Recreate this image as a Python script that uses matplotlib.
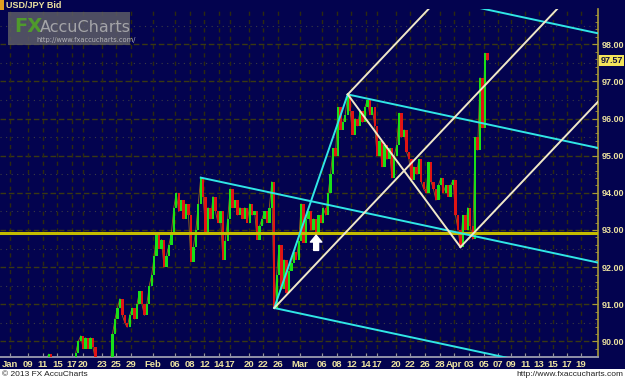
import matplotlib
matplotlib.use('Agg')
import matplotlib.pyplot as plt
import numpy as np
import pandas as pd
from matplotlib.patches import Rectangle
from matplotlib.ticker import MultipleLocator
from matplotlib.transforms import blended_transform_factory

# ---------------- data ----------------
symbol = 'USD/JPY Bid'
bars_per_day = 3
first_day = '2013-01-11'
last_day = '2013-04-05'

jan_closes = [89.40, 89.55, 89.66,  89.30, 89.10, 89.20,  88.80, 88.50, 88.70,
              88.30, 88.50, 88.40,  88.90, 89.70, 90.00,  90.15, 89.80, 90.10,
              89.80, 90.10, 89.85,  89.50, 89.00, 88.60,  88.30, 88.70, 88.80,
              89.30, 90.20, 90.60,  90.90, 91.15, 90.70,  90.50, 90.38, 90.70,
              90.90, 90.60, 91.00,  91.35, 91.00, 90.70,  91.00, 91.50, 91.80]
feb_closes = [92.30, 92.93, 92.50,  92.74, 92.00, 92.30,  92.60, 92.90, 93.60,
              94.00, 93.50, 93.80,  93.30, 93.70, 93.40,  92.15, 92.55, 93.00,
              93.70, 94.41, 93.90,  92.93, 93.60, 93.30,  93.90, 93.50, 93.20,
              93.50, 92.20, 92.70,  93.30, 94.10, 93.60,  93.80, 93.40, 93.60,
              93.30, 93.60, 93.20,  93.70, 93.40, 93.50,  92.74, 93.10, 93.30,
              93.50, 93.20, 93.60,  94.30, 90.90, 91.80,  92.60, 91.40, 92.20,
              91.30, 91.90, 92.10,  92.40, 92.20, 92.70]
mar_closes = [93.70, 92.66, 93.30,  93.50, 93.00, 93.30,  92.95, 93.40, 93.20,
              93.60, 93.40, 94.00,  94.50, 95.20, 95.00,  96.30, 95.70, 95.90,
              96.10, 96.65, 96.20,  95.57, 96.00, 95.80,  96.20, 95.90, 96.30,
              96.50, 96.10, 96.30,  95.80, 95.00, 95.40,  94.70, 95.30, 94.90,
              95.20, 94.40, 95.00,  95.30, 96.15, 95.50,  95.70, 95.10, 94.90,
              94.35, 94.70, 94.50,  94.90, 94.30, 94.10,  94.00, 94.83, 94.30,
              94.10, 93.80, 94.20,  94.40, 94.00, 94.20,  93.90, 94.20, 94.35]
apr_closes = [93.40, 93.00, 92.54,  93.40, 93.00, 93.60,  93.10, 92.75, 95.50,
              95.15, 97.10, 95.75,  97.76, 97.57]

support_level = 92.92
arrow_date = '2013-03-05'

cyan_pivot_dates = ['2013-02-11', '2013-02-25', '2013-03-11']
cyan_pivot_bars = [1, 1, 1]
cyan_pivot_prices = [94.41, 90.90, 96.65]
cream_pivot_dates = ['2013-02-25', '2013-03-11', '2013-04-01']
cream_pivot_bars = [1, 1, 2]
cream_pivot_prices = [90.90, 96.65, 92.54]

tick_dates = ['2013-01-06', '2013-01-09', '2013-01-11', '2013-01-15', '2013-01-17',
              '2013-01-20', '2013-01-23', '2013-01-25', '2013-01-29', '2013-02-01',
              '2013-02-06', '2013-02-08', '2013-02-12', '2013-02-14', '2013-02-17',
              '2013-02-20', '2013-02-22', '2013-02-26', '2013-03-01', '2013-03-06',
              '2013-03-08', '2013-03-12', '2013-03-14', '2013-03-17', '2013-03-20',
              '2013-03-22', '2013-03-26', '2013-03-28', '2013-04-01', '2013-04-03',
              '2013-04-05', '2013-04-07', '2013-04-09', '2013-04-11', '2013-04-13',
              '2013-04-15', '2013-04-17', '2013-04-19']
tick_labels = ['Jan', '09', '11', '15', '17', '20', '23', '25', '29', 'Feb',
               '06', '08', '12', '14', '17', '20', '22', '26', 'Mar', '06',
               '08', '12', '14', '17', '20', '22', '26', '28', 'Apr', '03',
               '05', '07', '09', '11', '13', '15', '17', '19']
price_ticks = [90, 91, 92, 93, 94, 95, 96, 97, 98]

# ---------------- style ----------------
W, H = 625, 380
NAVY = '#03034f'
GREEN = '#18e018'
RED = '#e01414'
CYAN = '#30e6e6'
CREAM = '#f0e8c8'
YELLOW = '#c4bc00'
OLIVE = '#a89a38'
LABEL = '#ece2a0'
FUTURE_STEP = 0.943

axis_days = pd.bdate_range('2013-01-07', last_day)
day_slot = {d: i for i, d in enumerate(axis_days)}


def slot(date):
    d = pd.Timestamp(date)
    if d <= axis_days[-1]:
        if d.weekday() >= 5:
            return day_slot[d + pd.offsets.BDay(1)] - 0.5
        return day_slot[d]
    return day_slot[axis_days[-1]] + (d - axis_days[-1]).days * FUTURE_STEP


fig = plt.figure(figsize=(W / 100, H / 100), dpi=100, facecolor=NAVY)
ax = fig.add_axes([0, 1 - 357 / H, 598 / W, (357 - 9) / H])
ax.set_facecolor(NAVY)
X0, X1 = -1.81, 79.55
ax.set_xlim(X0, X1)
ax.set_ylim(89.58, 98.95)

# grid
for p in price_ticks:
    ax.axhline(p, color='#3a3812', lw=1.0, ls=(0, (4, 2)), zorder=1)
for p in np.arange(89.5, 99.0, 1.0):
    ax.axhline(p, color='#3a3a44', lw=0.8, ls=(0, (1, 4)), zorder=1)
tick_slots = [slot(d) for d in tick_dates]
for t in tick_slots:
    ax.axvline(t, color='#2c2a10', lw=1.0, ls=(0, (3, 3)), zorder=1)

# price bars (each bar spans previous close -> close)
closes = np.array(jan_closes + feb_closes + mar_closes + apr_closes)
data_days = pd.bdate_range(first_day, last_day)
xs = np.array([slot(d) + (k + 0.5) / bars_per_day
               for d in data_days for k in range(bars_per_day)])[:len(closes)]
prev = np.r_[closes[0], closes[:-1]]
up = closes >= prev
colors = np.where(up, GREEN, RED)
ax.plot(xs, closes, color='#9a6a18', lw=0.6, zorder=2)
ax.bar(xs, closes - prev, bottom=prev, width=0.32, color=colors,
       linewidth=0, zorder=3)

# support line
ax.axhline(support_level, color=YELLOW, lw=2.2, zorder=4)


# Andrews pitchforks
def pivots(dates, bars, prices):
    px = np.array([slot(d) + (b + 0.5) / bars_per_day for d, b in zip(dates, bars)])
    return px, np.array(prices)


def andrews(px, py, color, warning=False):
    mx, my = (px[1] + px[2]) / 2, (py[1] + py[2]) / 2
    s = (my - py[0]) / (mx - px[0])
    ax.plot([px[1], px[2]], [py[1], py[2]], color=color, lw=1.4, zorder=5)
    for x0, y0 in zip(px, py):
        ax.plot([x0, X1], [y0, y0 + s * (X1 - x0)], color=color, lw=1.4, zorder=5)
    if warning:
        off = py[2] - (py[0] + s * (px[2] - px[0]))
        y0 = py[2] + off
        ax.plot([px[2], X1], [y0, y0 + s * (X1 - px[2])], color=color, lw=1.4, zorder=5)


andrews(*pivots(cyan_pivot_dates, cyan_pivot_bars, cyan_pivot_prices), CYAN, warning=True)
andrews(*pivots(cream_pivot_dates, cream_pivot_bars, cream_pivot_prices), CREAM)

# arrow marker
ax_x = slot(arrow_date) + 0.2
ax.annotate('', xy=(ax_x, support_level - 0.06), xytext=(ax_x, support_level - 0.47),
            arrowprops=dict(arrowstyle='simple,head_length=0.45,head_width=0.75,tail_width=0.32',
                            color='white', mutation_scale=11, shrinkA=0, shrinkB=0), zorder=6)

# axes styling
for side in ('top', 'left'):
    ax.spines[side].set_visible(False)
ax.spines['right'].set_color(OLIVE)
ax.spines['right'].set_linewidth(1.2)
ax.spines['bottom'].set_color('#9090a8')
ax.spines['bottom'].set_linewidth(1.4)
ax.yaxis.tick_right()
ax.set_yticks(price_ticks)
ax.set_yticklabels([f'{p:.2f}' for p in price_ticks])
ax.yaxis.set_minor_locator(MultipleLocator(0.2))
ax.set_xticks(tick_slots)
ax.set_xticklabels(tick_labels)
ax.tick_params(axis='y', which='major', direction='in', length=4, color=OLIVE,
               labelcolor=LABEL, labelsize=6.5, pad=3)
ax.tick_params(axis='y', which='minor', direction='in', length=2, color=OLIVE)
ax.tick_params(axis='x', direction='in', length=3, color='#9090a8',
               labelcolor=LABEL, labelsize=6.8, pad=2)
for lab in ax.get_xticklabels() + ax.get_yticklabels():
    lab.set_fontfamily('Liberation Sans')
    lab.set_fontweight('bold')

# last price label
tr = blended_transform_factory(ax.transAxes, ax.transData)
ax.text(1.004, closes[-1], f'{closes[-1]:.2f}', transform=tr, va='center', ha='left',
        fontsize=6.5, fontweight='bold', family='Liberation Sans', color='#101040',
        bbox=dict(boxstyle='square,pad=0.12', facecolor='#f4e45a', edgecolor='none'),
        clip_on=False, zorder=10)

# title
fig.patches.append(Rectangle((0, 1 - 10 / H), 4 / W, 10 / H, transform=fig.transFigure,
                             facecolor='#e0a020', edgecolor='none', zorder=10))
fig.text(6 / W, 1 - 5.5 / H, symbol, color=LABEL, fontsize=6.5, fontweight='bold',
         family='Liberation Sans', va='center', ha='left', zorder=10)

# watermark
fig.patches.append(Rectangle((8 / W, 1 - 45 / H), 122 / W, 33 / H, transform=fig.transFigure,
                             facecolor='#5c5c66', alpha=0.85, edgecolor='none', zorder=8))
fig.text(14 / W, 1 - 27 / H, 'FX', color='#4f9a2c', fontsize=14, fontweight='bold',
         va='center', ha='left', zorder=9)
fig.text(40 / W, 1 - 27 / H, 'AccuCharts', color='#a4a4a8', fontsize=11.5,
         va='center', ha='left', zorder=9)
fig.text(36 / W, 1 - 40 / H, 'http://www.fxaccucharts.com/', color='#b4b4b8', fontsize=4.8,
         va='center', ha='left', zorder=9)

# footer
fig.patches.append(Rectangle((0, 0), 1, 11 / H, transform=fig.transFigure,
                             facecolor='white', edgecolor='none', zorder=8))
fig.text(2 / W, 5 / H, '\u00a9 2013 FX AccuCharts', color='#202020', fontsize=6,
         family='Liberation Sans', va='center', ha='left', zorder=9)
fig.text(623 / W, 5 / H, 'http://www.fxaccucharts.com', color='#202020', fontsize=6,
         family='Liberation Sans', va='center', ha='right', zorder=9)

fig.savefig('out.png', dpi=100, facecolor=NAVY)
